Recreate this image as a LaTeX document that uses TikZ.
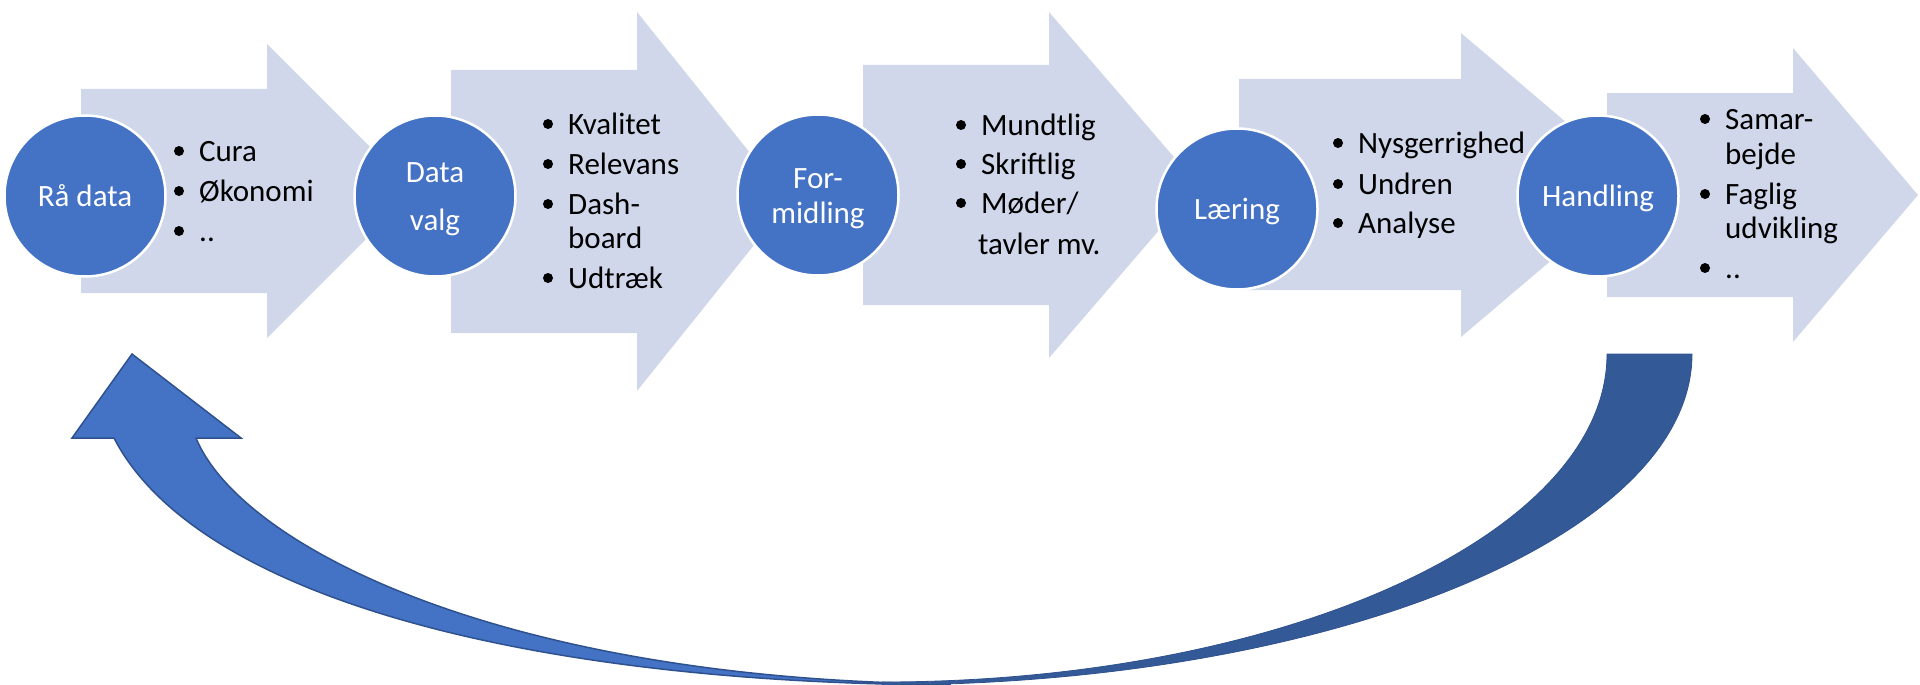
\documentclass[tikz,border=0pt]{standalone}
\usepackage{fontspec}
\setmainfont{Carlito}
\definecolor{arrowfill}{HTML}{D0D7EA}
\definecolor{circfill}{HTML}{4472C4}
\definecolor{loopdark}{HTML}{335A97}
\definecolor{loopedge}{HTML}{2F528F}
\tikzset{
  flow/.style={fill=arrowfill, draw=none},
  stage/.style={circle, fill=circfill, draw=white, line width=2.5pt, minimum size=161pt, inner sep=0pt},
  stagetxt/.style={text=white, font=\fontsize{31}{34}\selectfont, inner sep=0pt, anchor=base},
  itemtxt/.style={text=black, font=\fontsize{31}{34}\selectfont, inner sep=0pt, anchor=base west},
  bulletdot/.style={fill=black},
  loopback/.style={fill=circfill, draw=loopedge, line width=1.5pt, line join=miter},
  loopfront/.style={fill=loopdark, draw=loopedge, line width=0.8pt},
}
% body left, head base x, tip x, body top, body bottom, head top, head bottom
\newcommand{\flowarrow}[7]{%
  \path[flow] (#1,#4) -- (#2,#4) -- (#2,#6) -- ({#3},{(#6+#7)/2}) -- (#2,#7) -- (#2,#5) -- (#1,#5) -- cycle;}
% name, text x, baseline, text
\newcommand{\bitem}[4]{%
  \fill[bulletdot] (#2-20,#3-10) circle[radius=5pt];
  \node[itemtxt] (#1) at (#2,#3) {#4};}
\newcommand{\citem}[4]{%
  \node[itemtxt] (#1) at (#2,#3) {#4};}
\begin{document}
\begin{tikzpicture}[x=1pt,y=-1pt]
\useasboundingbox (0,0) rectangle (1920,685);

% light process arrows
\flowarrow{81}{267}{414}{89}{293}{44}{338}
\flowarrow{451}{637}{789}{70}{333}{12}{391}
\flowarrow{863}{1049}{1198}{65}{305}{12}{358}
\flowarrow{1239}{1461}{1640}{79}{290}{33}{337}
\flowarrow{1607}{1793}{1918}{93}{297}{48}{342}

% bullet lists
\bitem{l1a}{199}{161}{Cura}
\bitem{l1b}{199}{201}{Økonomi}
\bitem{l1c}{199}{241}{..}

\bitem{l2a}{568}{134}{Kvalitet}
\bitem{l2b}{568}{174}{Relevans}
\bitem{l2c}{568}{214}{Dash-}
\citem{l2d}{568}{248}{board}
\bitem{l2e}{568}{288}{Udtræk}

\bitem{l3a}{981}{135}{Mundtlig}
\bitem{l3b}{981}{174}{Skriftlig}
\bitem{l3c}{981}{213}{Møder/}
\citem{l3d}{978}{254}{tavler mv.}

\bitem{l4a}{1358}{153}{Nysgerrighed}
\bitem{l4b}{1358}{194}{Undren}
\bitem{l4c}{1358}{233}{Analyse}

\bitem{l5a}{1725}{129}{Samar-}
\citem{l5b}{1725}{164}{bejde}
\bitem{l5c}{1725}{204}{Faglig}
\citem{l5d}{1725}{238}{udvikling}
\bitem{l5e}{1725}{278}{..}

% stage circles
\node[stage] (c1) at (85,196) {};
\node[stage] (c2) at (435,196) {};
\node[stage] (c3) at (818,195) {};
\node[stage] (c4) at (1237,209) {};
\node[stage] (c5) at (1598,196) {};

\node[stagetxt] (t1) at (85,206) {Rå data};
\node[stagetxt] (t2a) at (435,182) {Data};
\node[stagetxt] (t2b) at (435,230) {valg};
\node[stagetxt] (t3a) at (818,188) {For-};
\node[stagetxt] (t3b) at (818,223) {midling};
\node[stagetxt] (t4) at (1237,219) {Læring};
\node[stagetxt] (t5) at (1598,206) {Handling};

% curved return arrow
\path[loopback] (950,685) .. controls (520,683) and (195,595) .. (114,438)
  -- (72,438) -- (132,354) -- (241,438) -- (196,438)
  .. controls (240,545) and (500,680) .. (950,684) -- cycle;
\path[loopfront] (1607,354) -- (1692,354)
  .. controls (1692,537) and (1329,685) .. (882,685)
  -- (882,682)
  .. controls (1282,682) and (1607,535) .. (1607,354) -- cycle;
\end{tikzpicture}
\end{document}
